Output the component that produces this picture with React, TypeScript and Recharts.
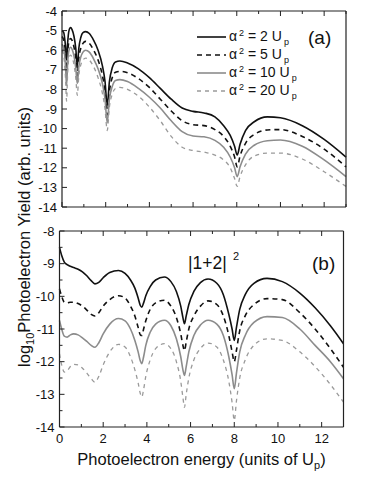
import React from 'react';
import { LineChart, Line, XAxis, YAxis, Legend } from 'recharts';

// ---------- data ----------
const topEnergy = [0, 0.08, 0.16, 0.21, 0.26, 0.32, 0.39, 0.46, 0.55, 0.63, 0.7, 0.77, 0.86, 0.96, 1.08, 1.25, 1.45, 1.65, 1.85, 1.97, 2.07, 2.17, 2.3, 2.45, 2.65, 3.0, 3.5, 4.0, 4.5, 5.0, 5.5, 6.0, 6.5, 7.0, 7.4, 7.7, 7.9, 8.02, 8.15, 8.4, 8.8, 9.4, 10.0, 11.0, 12.0, 13.0];
const topA2 = [-5.0, -5.1, -5.8, -6.5, -5.6, -5.0, -4.85, -4.95, -5.3, -5.9, -6.8, -5.9, -5.35, -5.1, -5.05, -5.15, -5.5, -6.0, -6.8, -7.6, -8.8, -7.6, -6.9, -6.6, -6.55, -6.65, -6.95, -7.4, -7.95, -8.5, -8.95, -9.12, -9.2, -9.4, -9.85, -10.35, -10.9, -11.35, -10.8, -10.1, -9.65, -9.4, -9.45, -9.85, -10.55, -11.45];
const topA5 = [-5.3, -5.5, -6.3, -7.2, -6.1, -5.55, -5.4, -5.5, -5.85, -6.4, -7.3, -6.4, -5.9, -5.65, -5.55, -5.65, -6.0, -6.5, -7.3, -8.1, -9.3, -8.1, -7.4, -7.12, -7.08, -7.15, -7.45, -7.9, -8.5, -9.1, -9.6, -9.8, -9.85, -10.05, -10.4, -10.9, -11.45, -11.95, -11.4, -10.75, -10.3, -10.07, -10.05, -10.4, -11.05, -11.95];
const topA10 = [-5.7, -5.9, -6.8, -7.8, -6.6, -6.0, -5.85, -5.95, -6.3, -6.9, -7.7, -6.85, -6.35, -6.1, -6.0, -6.1, -6.45, -6.95, -7.7, -8.5, -9.7, -8.5, -7.85, -7.55, -7.5, -7.6, -7.95, -8.4, -8.95, -9.6, -10.15, -10.38, -10.42, -10.6, -10.95, -11.45, -12.0, -12.45, -11.95, -11.3, -10.85, -10.62, -10.58, -10.9, -11.6, -12.45];
const topA20 = [-6.0, -6.3, -7.4, -8.6, -7.1, -6.4, -6.25, -6.35, -6.75, -7.4, -8.3, -7.3, -6.75, -6.5, -6.4, -6.5, -6.85, -7.4, -8.2, -9.0, -10.1, -8.9, -8.25, -7.95, -7.9, -8.0, -8.35, -8.9, -9.6, -10.4, -10.95, -11.12, -11.2, -11.35, -11.6, -12.0, -12.55, -12.95, -12.45, -11.85, -11.4, -11.25, -11.25, -11.55, -12.2, -12.95];

const bottomEnergy = [0, 0.1, 0.22, 0.35, 0.5, 0.65, 0.85, 1.05, 1.25, 1.45, 1.62, 1.8, 2.0, 2.3, 2.7, 3.0, 3.25, 3.45, 3.6, 3.7, 3.77, 3.85, 3.95, 4.15, 4.4, 4.8, 5.1, 5.35, 5.55, 5.65, 5.72, 5.8, 5.92, 6.15, 6.45, 6.8, 7.2, 7.5, 7.75, 7.9, 8.0, 8.1, 8.25, 8.5, 8.9, 9.5, 10.2, 11.0, 11.7, 12.4, 13.0];
const bottomA2 = [-8.5, -8.75, -8.95, -9.03, -9.08, -9.12, -9.17, -9.25, -9.37, -9.52, -9.62, -9.57, -9.43, -9.27, -9.21, -9.3, -9.5, -9.75, -10.05, -10.28, -10.33, -10.2, -9.98, -9.7, -9.5, -9.41, -9.55, -9.85, -10.3, -10.65, -10.84, -10.6, -10.25, -9.85, -9.58, -9.47, -9.6, -9.95, -10.55, -11.0, -11.35, -10.95, -10.4, -9.95, -9.6, -9.45, -9.55, -9.9, -10.35, -10.9, -11.45];
const bottomA5 = [-9.77, -10.0, -10.18, -10.2, -10.18, -10.18, -10.22, -10.3, -10.42, -10.55, -10.6, -10.5, -10.3, -10.1, -9.98, -10.05, -10.3, -10.6, -10.95, -11.18, -11.2, -11.0, -10.75, -10.4, -10.2, -10.12, -10.3, -10.65, -11.15, -11.5, -11.66, -11.4, -11.0, -10.6, -10.3, -10.14, -10.25, -10.6, -11.2, -11.7, -12.0, -11.65, -11.05, -10.6, -10.25, -10.07, -10.1, -10.5, -11.0, -11.6, -12.17];
const bottomA10 = [-10.74, -11.0, -11.22, -11.25, -11.18, -11.15, -11.18, -11.27, -11.38, -11.5, -11.56, -11.42, -11.15, -10.85, -10.68, -10.75, -11.0, -11.35, -11.7, -11.98, -12.06, -11.85, -11.5, -11.1, -10.85, -10.73, -10.9, -11.3, -11.85, -12.25, -12.42, -12.15, -11.7, -11.2, -10.88, -10.73, -10.85, -11.2, -11.85, -12.4, -12.83, -12.35, -11.7, -11.2, -10.8, -10.62, -10.65, -11.0, -11.5, -12.0, -12.52];
const bottomA20 = [-11.76, -12.1, -12.32, -12.28, -12.15, -12.08, -12.1, -12.2, -12.35, -12.52, -12.63, -12.45, -12.1, -11.7, -11.47, -11.55, -11.85, -12.25, -12.65, -12.98, -13.08, -12.85, -12.45, -11.95, -11.6, -11.45, -11.6, -12.0, -12.6, -13.1, -13.4, -13.0, -12.5, -11.95, -11.6, -11.43, -11.55, -11.95, -12.6, -13.25, -13.8, -13.2, -12.5, -11.95, -11.5, -11.3, -11.35, -11.7, -12.15, -12.7, -13.24];

const xTicks = [0, 1, 2, 3, 4, 5, 6, 7, 8, 9, 10, 11, 12, 13];
const xLabelTicks = [0, 2, 4, 6, 8, 10, 12];
const topYTicks = [-14, -13, -12, -11, -10, -9, -8, -7, -6, -5, -4];
const bottomYTicks = [-14, -13.5, -13, -12.5, -12, -11.5, -11, -10.5, -10, -9.5, -9, -8.5, -8];
const alphaLabels = ['2', '5', '10', '20'];
const seriesKeys = ['a2', 'a5', 'a10', 'a20'];

// ---------- styles ----------
const seriesStroke = ['#111111', '#111111', '#8c8c8c', '#9a9a9a'];
const seriesDash = [undefined, '5 4', undefined, '4 4'];
const seriesWidth = [1.6, 1.6, 1.6, 1.3];
const FONT = '"Liberation Sans", Arial, sans-serif';
const AX = '#222';

const topData = topEnergy.map((e, i) => ({ e, a2: topA2[i], a5: topA5[i], a10: topA10[i], a20: topA20[i] }));
const bottomData = bottomEnergy.map((e, i) => ({ e, a2: bottomA2[i], a5: bottomA5[i], a10: bottomA10[i], a20: bottomA20[i] }));

const makeXTick = (side: 'top' | 'bottom', labels: boolean) => (props: any) => {
  const { x, y, payload } = props;
  const v = payload.value;
  const major = v % 2 === 0;
  const len = major ? 5 : 3;
  const dir = side === 'bottom' ? -1 : 1;
  return (
    <g>
      <line x1={x} y1={y} x2={x} y2={y + dir * len} stroke={AX} strokeWidth={1} />
      {labels && xLabelTicks.includes(v) ? (
        <text x={x} y={y + 16} textAnchor="middle" fontSize={13} fontFamily={FONT} fill="#111">{v}</text>
      ) : null}
    </g>
  );
};

const makeYTick = (side: 'left' | 'right', labels: boolean) => (props: any) => {
  const { x, y, payload } = props;
  const v = payload.value;
  const major = Number.isInteger(v);
  const len = major ? 5 : 3;
  const dir = side === 'left' ? 1 : -1;
  return (
    <g>
      <line x1={x} y1={y} x2={x + dir * len} y2={y} stroke={AX} strokeWidth={1} />
      {labels && major ? (
        <text x={x - 5} y={y + 4.5} textAnchor="end" fontSize={13} fontFamily={FONT} fill="#111">{v}</text>
      ) : null}
    </g>
  );
};

const LegendContent = () => (
  <div style={{ fontFamily: FONT, color: '#111' }}>
    {alphaLabels.map((lab, i) => (
      <div key={lab} style={{ display: 'flex', alignItems: 'center', height: 18, whiteSpace: 'nowrap' }}>
        <svg width={29} height={4} style={{ marginRight: 3 }}>
          <line x1={0} y1={2} x2={29} y2={2} stroke={seriesStroke[i]} strokeWidth={seriesWidth[i]} strokeDasharray={seriesDash[i]} />
        </svg>
        <span style={{ fontSize: 14, lineHeight: '18px' }}>
          α<span style={{ fontSize: 9, position: 'relative', top: -5, marginLeft: 2 }}>2</span> = {lab} U
          <span style={{ fontSize: 9, position: 'relative', top: 4, marginLeft: 2 }}>p</span>
        </span>
      </div>
    ))}
  </div>
);

const renderLines = () =>
  seriesKeys.map((k, i) => (
    <Line
      key={k}
      type="monotone"
      dataKey={k}
      name={`α² = ${alphaLabels[i]} Up`}
      stroke={seriesStroke[i]}
      strokeWidth={seriesWidth[i]}
      strokeDasharray={seriesDash[i]}
      dot={false}
      activeDot={false}
      isAnimationActive={false}
    />
  ));

const axisLineStyle = { stroke: AX, strokeWidth: 1.2 };

export default function App() {
  return (
    <div style={{ position: 'absolute', left: 0, top: 0, width: 382, height: 494, background: '#fff', fontFamily: FONT }}>
      <div style={{ position: 'absolute', left: 0, top: 0 }}>
        <LineChart width={382} height={215} data={topData} margin={{ top: 10, right: 35, bottom: 7, left: 0 }}>
          <XAxis dataKey="e" type="number" domain={[0, 13]} ticks={xTicks} interval={0} height={1}
            tickSize={0} tickMargin={0} tickLine={false} axisLine={axisLineStyle} tick={makeXTick('bottom', false)} />
          <XAxis xAxisId="top" orientation="top" dataKey="e" type="number" domain={[0, 13]} ticks={xTicks} interval={0} height={1}
            tickSize={0} tickMargin={0} tickLine={false} axisLine={axisLineStyle} tick={makeXTick('top', false)} />
          <YAxis type="number" domain={[-14, -4]} ticks={topYTicks} interval={0} width={62}
            tickSize={0} tickMargin={0} tickLine={false} axisLine={axisLineStyle} tick={makeYTick('left', true)} />
          <YAxis yAxisId="r" orientation="right" type="number" domain={[-14, -4]} ticks={topYTicks} interval={0} width={1}
            tickSize={0} tickMargin={0} tickLine={false} axisLine={axisLineStyle} tick={makeYTick('right', false)} />
          <Legend layout="vertical" align="center" verticalAlign="middle" content={LegendContent}
            wrapperStyle={{ left: 197, top: 28, width: 'auto', height: 'auto', margin: 0 }} />
          {renderLines()}
        </LineChart>
      </div>
      <div style={{ position: 'absolute', left: 0, top: 215 }}>
        <LineChart width={382} height={279} data={bottomData} margin={{ top: 15, right: 37.5, bottom: 66, left: 0 }}>
          <XAxis dataKey="e" type="number" domain={[0, 13]} ticks={xTicks} interval={0} height={1}
            tickSize={0} tickMargin={0} tickLine={false} axisLine={axisLineStyle} tick={makeXTick('bottom', true)} />
          <XAxis xAxisId="top" orientation="top" dataKey="e" type="number" domain={[0, 13]} ticks={xTicks} interval={0} height={1}
            tickSize={0} tickMargin={0} tickLine={false} axisLine={axisLineStyle} tick={makeXTick('top', false)} />
          <YAxis type="number" domain={[-14, -8]} ticks={bottomYTicks} interval={0} width={59.5}
            tickSize={0} tickMargin={0} tickLine={false} axisLine={axisLineStyle} tick={makeYTick('left', true)} />
          <YAxis yAxisId="r" orientation="right" type="number" domain={[-14, -8]} ticks={bottomYTicks} interval={0} width={1}
            tickSize={0} tickMargin={0} tickLine={false} axisLine={axisLineStyle} tick={makeYTick('right', false)} />
          {renderLines()}
        </LineChart>
      </div>
      <svg width={382} height={494} style={{ position: 'absolute', left: 0, top: 0, pointerEvents: 'none' }}>
        <text transform="translate(30,237) rotate(-90)" textAnchor="middle" fontSize={16.5} fontFamily={FONT} fill="#111">
          log<tspan fontSize={11} dy={4}>10</tspan><tspan dy={-4}>Photoelectron Yield (arb. units)</tspan>
        </text>
        <text x={201.5} y={465} textAnchor="middle" fontSize={16.5} fontFamily={FONT} fill="#111">
          Photoelectron energy (units of U<tspan fontSize={11} dy={4}>p</tspan><tspan dy={-4}>)</tspan>
        </text>
        <text x={308} y={43.5} fontSize={19} fontFamily={FONT} fill="#111">(a)</text>
        <text x={312} y={269.5} fontSize={19} fontFamily={FONT} fill="#111">(b)</text>
        <text x={188} y={269} fontSize={17.5} fontFamily={FONT} fill="#111">|1+2|</text>
        <text x={233} y={260} fontSize={11} fontFamily={FONT} fill="#111">2</text>
      </svg>
    </div>
  );
}
